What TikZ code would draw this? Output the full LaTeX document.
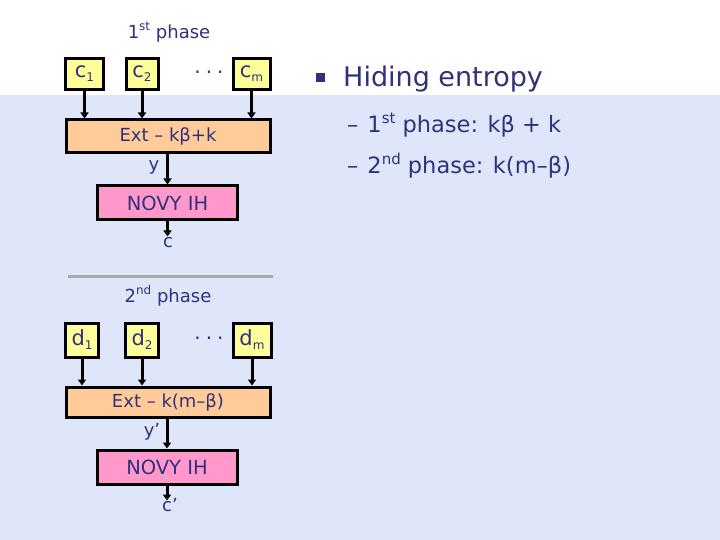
\documentclass[tikz,border=0pt]{standalone}
\usepackage{fontspec}
\setmainfont{DejaVu Sans}
\usetikzlibrary{arrows.meta}
\definecolor{bgl}{RGB}{224,230,250}
\definecolor{txt}{RGB}{48,48,125}
\definecolor{yel}{RGB}{255,255,153}
\definecolor{ora}{RGB}{255,204,153}
\definecolor{pnk}{RGB}{255,153,204}
\definecolor{gry}{RGB}{170,170,170}
\newcommand{\mysub}[1]{\raisebox{-0.35ex}{\fontsize{12}{12}\selectfont #1}}
\newcommand{\mysup}[1]{\raisebox{0.75ex}{\fontsize{12}{12}\selectfont #1}}
\newcommand{\mydots}{.\hspace{5pt}.\hspace{5pt}.}
\begin{document}
\begin{tikzpicture}[x=1pt,y=-1pt,
  box/.style={draw=black,line width=3pt,inner sep=0pt,text=txt},
  inbox/.style={box,fill=yel,font=\fontsize{21}{21}\selectfont,minimum height=31pt},
  extbox/.style={box,fill=ora,font=\fontsize{18}{18}\selectfont,minimum width=204pt},
  novbox/.style={box,fill=pnk,font=\fontsize{19.5}{19.5}\selectfont,minimum width=140pt,minimum height=34pt},
  lbl/.style={text=txt,font=\fontsize{18}{18}\selectfont,inner sep=0pt},
  dotsl/.style={text=txt,font=\fontsize{20}{20}\selectfont,inner sep=0pt,anchor=base},
  arr/.style={line width=3pt,-{Triangle[length=6pt,width=8pt]}},
  rtxt/.style={text=txt,anchor=west,inner sep=0pt}]
\useasboundingbox (0,0) rectangle (720,540);
\fill[white] (0,0) rectangle (720,95);
\fill[bgl] (0,95) rectangle (720,540);
% phase 1
\node[lbl] (ph1) at (169,32) {1\mysup{st} phase};
\node[inbox,minimum width=38pt] (c1) at (84.5,74) {c\mysub{1}};
\node[inbox,minimum width=32pt] (c2) at (142,74) {c\mysub{2}};
\node[dotsl] (dots1) at (209,74) {\mydots};
\node[inbox,minimum width=37pt] (cm) at (251.5,74) {c\mysub{m}};
\node[extbox,minimum height=33pt] (ext1) at (168,136.5) {Ext – kβ+k};
\node[novbox] (nov1) at (167.5,203) {NOVY IH};
\node[lbl] (y1) at (154,167) {y};
\node[lbl] (c) at (168,243) {c};
\draw[arr] (c1.south) -- (c1.south |- ext1.north);
\draw[arr] (c2.south) -- (c2.south |- ext1.north);
\draw[arr] (cm.south) -- (cm.south |- ext1.north);
\draw[arr] (ext1.south -| nov1.north) -- (nov1.north);
\draw[arr] (nov1.south) -- ++(0,15) coordinate (cend);
% separator
\coordinate (sepa) at (68,276);
\coordinate (sepb) at (273,276);
\draw[gry,line width=3pt] (sepa) -- (sepb);
% phase 2
\node[lbl] (ph2) at (168,296) {2\mysup{nd} phase};
\node[inbox,minimum width=33pt,minimum height=34pt] (d1) at (82,340) {d\mysub{1}};
\node[inbox,minimum width=33pt,minimum height=34pt] (d2) at (142,340) {d\mysub{2}};
\node[dotsl] (dots2) at (209,339) {\mydots};
\node[inbox,minimum width=38pt,minimum height=34pt] (dm) at (252,340) {d\mysub{m}};
\node[extbox,minimum height=30pt] (ext2) at (168,402) {Ext – k(m–β)};
\node[novbox] (nov2) at (167,467) {NOVY IH};
\node[lbl] (y2) at (152,432) {y’};
\node[lbl] (cp) at (170,505) {c’};
\draw[arr] (d1.south) -- (d1.south |- ext2.north);
\draw[arr] (d2.south) -- (d2.south |- ext2.north);
\draw[arr] (dm.south) -- (dm.south |- ext2.north);
\draw[arr] (ext2.south -| nov2.north) -- (nov2.north);
\draw[arr] (nov2.south) -- ++(0,15) coordinate (cpend);
% right text
\node[fill=txt,minimum size=9pt,inner sep=0pt] (bul) at (320,78) {};
\node[rtxt,font=\fontsize{27}{27}\selectfont] (hid) at (343,79) {Hiding entropy};
\node[rtxt,font=\fontsize{22.5}{22.5}\selectfont] (p1) at (347,125) {–\hspace{9pt}1\mysup{\fontsize{15}{15}\selectfont st} phase: kβ + k};
\node[rtxt,font=\fontsize{22.5}{22.5}\selectfont] (p2) at (347,166) {–\hspace{9pt}2\mysup{\fontsize{15}{15}\selectfont nd} phase: k(m–β)};
\end{tikzpicture}
\end{document}
